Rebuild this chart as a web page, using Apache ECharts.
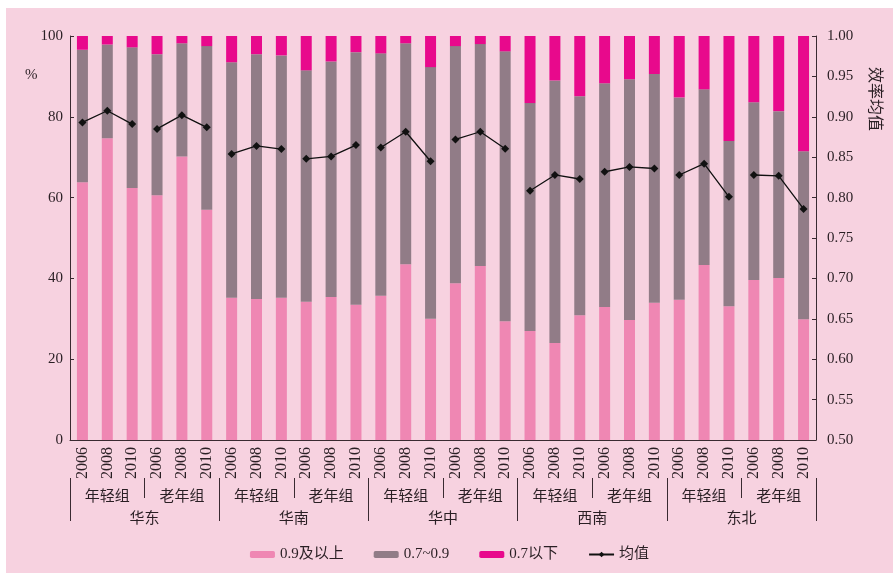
<!DOCTYPE html>
<html lang="zh">

<head>
    <meta charset="UTF-8">
    <title>效率分布</title>
    <script src="https://cdn.jsdelivr.net/npm/echarts@6/dist/echarts.min.js"></script>
    <style>
        * {
            margin: 0px;
            padding: 0px;
        }

        body {
            background: #ffffff;
        }

        #chart {
            position: absolute;
            left: 6px;
            top: 8px;
            width: 887px;
            height: 565px;
            background: #f7d2e0;
        }
    </style>
</head>

<body>
    <div id="chart"></div>

    <script type="text/javascript">
        // 类目
        var regions = ['华东', '华南', '华中', '西南', '东北'];
        var groupNames = ['年轻组', '老年组'];
        var yearNames = ['2006', '2008', '2010'];
        var years = [];
        var groups = [];
        regions.forEach(function () {
            groupNames.forEach(function (g) {
                groups.push(g);
                yearNames.forEach(function (y) { years.push(y); });
            });
        });

        // 各效率区间占比 (%)
        var above09 = [63.8, 74.7, 62.4, 60.6, 70.2, 57.0,
            35.2, 34.9, 35.2, 34.2, 35.4, 33.5,
            35.7, 43.5, 30.0, 38.8, 43.1, 29.4,
            27.0, 24.0, 30.9, 32.9, 29.7, 34.0,
            34.7, 43.3, 33.1, 39.6, 40.1, 29.9];
        var mid0709 = [32.8, 23.2, 34.8, 34.9, 28.0, 40.5,
            58.3, 60.6, 60.0, 57.3, 58.3, 62.5,
            60.0, 54.7, 62.3, 58.7, 54.9, 66.8,
            56.4, 65.0, 54.2, 55.4, 59.6, 56.6,
            50.1, 43.5, 40.9, 44.0, 41.3, 41.6];
        var below07 = [3.4, 2.1, 2.8, 4.5, 1.8, 2.5,
            6.5, 4.5, 4.8, 8.5, 6.3, 4.0,
            4.3, 1.8, 7.7, 2.5, 2.0, 3.8,
            16.6, 11.0, 14.9, 11.7, 10.7, 9.4,
            15.2, 13.2, 26.0, 16.4, 18.6, 28.5];
        // 效率均值
        var meanVal = [0.893, 0.9075, 0.891, 0.885, 0.902, 0.887,
            0.854, 0.864, 0.860, 0.848, 0.851, 0.865,
            0.862, 0.8815, 0.845, 0.872, 0.8815, 0.8605,
            0.8085, 0.828, 0.823, 0.832, 0.838, 0.836,
            0.828, 0.842, 0.801, 0.828, 0.827, 0.786];

        var serif = '"Liberation Serif", "DejaVu Serif", "Noto Sans CJK SC", serif';
        var dark = '#3a2a31';
        var txt = '#2a1f24';

        var myChart = echarts.init(document.getElementById('chart'));

        // 均值折线：每组三年为一段
        var meanSeries = [];
        for (var k = 0; k < 10; k++) {
            meanSeries.push({
                name: '均值',
                type: 'line',
                yAxisIndex: 1,
                symbol: 'diamond',
                symbolSize: 8,
                lineStyle: { color: '#111111', width: 1.3 },
                itemStyle: { color: '#111111' },
                data: meanVal.map(function (v, i) {
                    return Math.floor(i / 3) === k ? v : null;
                })
            });
        }

        var option = {
            backgroundColor: '#f7d2e0',
            animation: false,
            textStyle: { fontFamily: serif, color: txt },
            grid: { left: 64, right: 77, top: 28, bottom: 133 },
            legend: {
                left: 'center',
                bottom: 6,
                itemWidth: 25,
                itemHeight: 7,
                itemGap: 30,
                textStyle: { fontSize: 15, fontFamily: serif, color: txt },
                data: ['0.9及以上', '0.7~0.9', '0.7以下', '均值']
            },
            xAxis: [{
                type: 'category',
                data: years,
                axisLine: { lineStyle: { color: dark, width: 1 } },
                axisTick: { interval: 0, length: 38, lineStyle: { color: dark } },
                axisLabel: { interval: 0, rotate: 90, margin: 7, fontSize: 16, color: txt, fontFamily: serif }
            }, {
                type: 'category',
                data: groups,
                position: 'bottom',
                offset: 38,
                axisLine: { show: false },
                axisTick: { show: true, interval: 0, length: 20, lineStyle: { color: dark } },
                axisLabel: { interval: 0, margin: 12, fontSize: 15, color: txt, fontFamily: serif }
            }, {
                type: 'category',
                data: regions,
                position: 'bottom',
                offset: 58,
                axisLine: { show: false },
                axisTick: { show: true, interval: 0, length: 23, lineStyle: { color: dark } },
                axisLabel: { interval: 0, margin: 14, fontSize: 15, color: txt, fontFamily: serif }
            }],
            yAxis: [{
                type: 'value',
                min: 0,
                max: 100,
                interval: 20,
                splitLine: { show: false },
                axisLine: { show: true, lineStyle: { color: dark } },
                axisTick: { show: true, inside: true, length: 4, lineStyle: { color: dark } },
                axisLabel: { margin: 7, fontSize: 15, color: txt, fontFamily: serif }
            }, {
                type: 'value',
                min: 0.5,
                max: 1,
                interval: 0.05,
                position: 'right',
                splitLine: { show: false },
                axisLine: { show: true, lineStyle: { color: dark } },
                axisTick: { show: true, inside: true, length: 4, lineStyle: { color: dark } },
                axisLabel: {
                    margin: 11, fontSize: 15, color: txt, fontFamily: serif,
                    formatter: function (v) { return v.toFixed(2); }
                }
            }],
            graphic: [{
                type: 'text',
                left: 19,
                top: 60,
                style: { text: '%', fontSize: 15, fontFamily: serif, fill: txt }
            }, {
                type: 'text',
                x: 876,
                y: 59,
                rotation: -Math.PI / 2,
                style: { text: '效率均值', fontSize: 16, fontFamily: serif, fill: txt }
            }],
            series: [{
                name: '0.9及以上',
                type: 'bar',
                stack: 'a',
                barWidth: 11,
                itemStyle: { color: '#ef87b3' },
                data: above09
            }, {
                name: '0.7~0.9',
                type: 'bar',
                stack: 'a',
                barWidth: 11,
                itemStyle: { color: '#917c87' },
                data: mid0709
            }, {
                name: '0.7以下',
                type: 'bar',
                stack: 'a',
                barWidth: 11,
                itemStyle: { color: '#e8098c' },
                data: below07
            }].concat(meanSeries)
        };

        myChart.setOption(option);
    </script>
</body>

</html>
